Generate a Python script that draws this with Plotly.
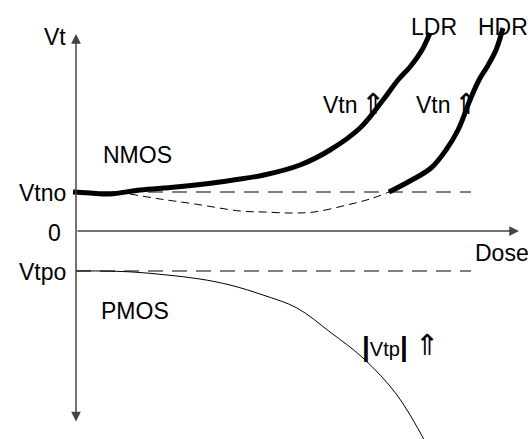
import plotly.graph_objects as go

# Schematic data in "dose" / "Vt" units (origin at axis crossing)
ldr_dose = [-3, 14, 34, 64, 100, 144, 188, 224, 254, 284, 307, 322, 334, 346, 354]
ldr_vt = [39, 38, 37, 41, 44, 49, 56, 66, 81, 103, 131, 151, 164, 181, 198]

hdr_dose = [313, 334, 355, 370, 382, 394, 403, 411, 420, 427]
hdr_vt = [39, 50, 63, 81, 101, 131, 151, 164, 181, 203]

dip_dose = [54, 84, 119, 164, 188, 214, 238, 271, 294, 313]
dip_vt = [37, 32, 27, 20, 19, 18, 19, 26, 32, 39]

pmos_dose = [0, 24, 57, 91, 124, 154, 187, 221, 254, 287, 321, 351]
pmos_vt = [-40, -40, -41, -44, -48, -54, -64, -77, -101, -127, -164, -214]

vtno = 39
vtpo = -40
ref_end = 395

FONT = "Liberation Sans, Arial, sans-serif"
ARROW = '<span style="font-size:29px">⇑</span>'

fig = go.Figure()

# reference dashed levels
fig.add_trace(go.Scatter(x=[0, ref_end], y=[vtno, vtno], mode="lines",
                         line=dict(color="black", width=1, dash="15px,9px")))
fig.add_trace(go.Scatter(x=[0, ref_end], y=[vtpo, vtpo], mode="lines",
                         line=dict(color="black", width=1, dash="15px,9px")))
# dip curve
fig.add_trace(go.Scatter(x=dip_dose, y=dip_vt, mode="lines",
                         line=dict(color="black", width=1, dash="8px,5px", shape="spline")))
# PMOS
fig.add_trace(go.Scatter(x=pmos_dose, y=pmos_vt, mode="lines",
                         line=dict(color="black", width=1, shape="spline")))
# LDR / HDR
fig.add_trace(go.Scatter(x=ldr_dose, y=ldr_vt, mode="lines",
                         line=dict(color="black", width=5, shape="spline")))
fig.add_trace(go.Scatter(x=hdr_dose, y=hdr_vt, mode="lines",
                         line=dict(color="black", width=5, shape="spline")))

axis_color = "#444444"
annotations = [
    # vertical axis with arrows at both ends
    dict(x=0, y=197, ax=0, ay=-192, xref="x", yref="y", axref="x", ayref="y",
         text="", showarrow=True, arrowhead=2, startarrowhead=2, arrowside="end+start",
         arrowwidth=1.5, arrowsize=1.3, startarrowsize=1.3, arrowcolor=axis_color),
    # horizontal axis
    dict(x=443, y=0, ax=0, ay=0, xref="x", yref="y", axref="x", ayref="y",
         text="", showarrow=True, arrowhead=2, arrowwidth=1.5, arrowsize=1.3,
         arrowcolor=axis_color),
]

def label(text, x, y, xanchor="left", size=23, yanchor="middle"):
    return dict(x=x, y=y, xref="x", yref="y", text=text, showarrow=False,
                xanchor=xanchor, yanchor=yanchor,
                font=dict(family=FONT, size=size, color="black"))

annotations += [
    label("Vt", -8, 194, "right"),
    label("LDR", 333, 204),
    label("HDR", 400, 204),
    label("Vtn", 245, 126),
    label(ARROW, 283, 127),
    label("Vtn", 338, 126),
    label(ARROW, 376, 127),
    label("NMOS", 25, 76),
    label("Vtno", -8, 38, "right"),
    label("0", -13, -2, "right"),
    label("Vtpo", -8, -41, "right"),
    label("Dose", 397, -22),
    label("PMOS", 23, -80),
    label('<span style="font-size:28px"><b>|</b></span>'
          '<span style="font-size:20px">Vtp</span>'
          '<span style="font-size:28px"><b>|</b></span>',
          284, -115, size=21),
    label(ARROW, 337, -114),
]

fig.update_layout(
    width=528, height=439,
    margin=dict(l=0, r=0, t=0, b=0),
    paper_bgcolor="white", plot_bgcolor="white",
    showlegend=False,
    xaxis=dict(range=[-76, 452], visible=False, fixedrange=True),
    yaxis=dict(range=[-208, 231], visible=False, fixedrange=True),
    annotations=annotations,
)

fig.write_html("out.html", config={"displayModeBar": False},
               post_script="document.body.style.margin='0';document.body.style.overflow='hidden';")
